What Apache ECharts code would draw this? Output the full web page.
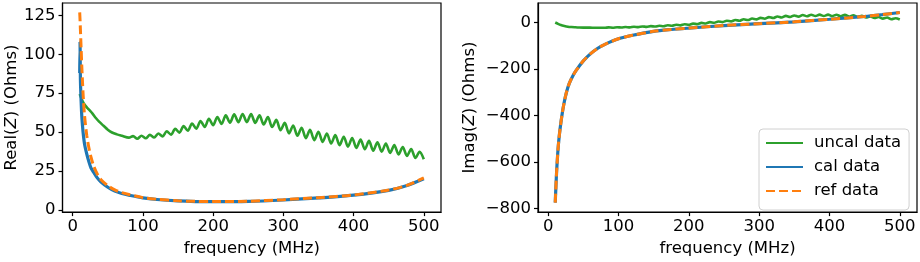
<!DOCTYPE html>
<html>
<head>
<meta charset="utf-8">
<script src="https://cdn.jsdelivr.net/npm/echarts@6/dist/echarts.min.js"></script>
<style>
  html, body { margin: 0; padding: 0; background: #fff; }
  #chart { width: 920px; height: 262px; }
</style>
</head>
<body>
<div id="chart"></div>
<script>
// frequency grid of the uncalibrated sweep (MHz)
const freqUncal = [10, 14, 18, 23, 28, 33, 38, 44, 50, 56, 63, 70,
  80, 86, 92, 98, 104, 110, 116, 122, 128, 134, 140, 146, 152, 158, 164, 170, 176, 182, 188, 194,
  200, 206, 212, 218, 224, 230, 236, 242, 248, 254, 260, 266, 272, 278, 284, 290, 296,
  302, 308, 314, 320, 326, 332, 338, 344, 350, 356, 362, 368, 374, 380, 386, 392, 398,
  404, 410, 416, 422, 428, 434, 440, 446, 452, 458, 464, 470, 476, 482, 488, 494, 500];

const realUncal = [74.5, 70, 67, 64.5, 62, 59, 56.5, 54, 51.5, 49.7, 48.5, 47.6,
  46.4, 47.4, 45.7, 47.6, 46.0, 48.2, 46.5, 49.1, 47.2, 50.5, 48.3, 52.1, 49.6, 53.8, 50.9, 55.5, 52.1, 57.1, 53.3, 58.5,
  54.4, 59.7, 55.2, 60.7, 56.0, 61.4, 56.3, 61.6, 56.4, 61.5, 55.9, 60.8, 54.9, 59.6, 53.2, 57.8, 51.2,
  55.9, 49.2, 54.2, 47.6, 52.8, 46.1, 51.4, 44.8, 50.2, 43.7, 49.1, 42.6, 48.0, 41.5, 47.0, 40.6, 46.1,
  39.8, 45.1, 38.9, 44.3, 38.0, 43.4, 37.4, 42.6, 36.6, 41.6, 35.6, 40.4, 34.6, 39.1, 33.3, 37.3, 32.5];

const imagUncal = [0, -6, -11, -15, -18, -19.5, -20.5, -21.5, -22, -22, -22.3, -22.3,
  -22.8, -20.9, -22.3, -20.2, -21.6, -19.3, -20.8, -18.3, -19.8, -17.0, -18.7, -15.6, -17.3, -13.9, -15.9, -12.0, -14.2, -9.9, -12.1, -7.4,
  -9.8, -4.6, -6.9, -1.5, -4.0, 1.5, -1.1, 4.6, 1.8, 7.7, 4.8, 10.8, 7.7, 13.9, 10.6, 17.0, 13.5,
  20.1, 16.4, 23.2, 19.3, 26.0, 21.6, 28.5, 23.7, 30.5, 25.4, 32.2, 26.8, 33.4, 28.0, 34.0, 28.0, 34.0,
  27.8, 33.5, 27.2, 32.7, 25.8, 30.9, 24.0, 28.8, 21.6, 26.4, 19.2, 24.0, 16.8, 21.5, 14.0, 18.5, 13.0];

// frequency grid of the calibrated / reference curves (MHz)
const freqCal = [10, 10.5, 11, 12, 13, 14, 15, 17, 20, 23, 26, 30, 35, 40, 50, 60, 70, 80,
  100, 120, 150, 175, 200, 250, 300, 350, 400, 450, 475, 500];

const realCal = [88, 108, 84, 70, 60, 54, 49, 42, 36, 31, 27, 24, 20.5, 18, 14.5, 12, 10.5, 9.4,
  7.6, 6.6, 5.7, 5.3, 5.2, 5.4, 6.3, 7.6, 9.4, 12.5, 15.5, 20];
const realRef = [127, 122, 116, 104, 92, 82, 73, 60, 48, 40, 34, 28, 23, 19.5, 15.5, 12.8, 11, 9.8,
  7.8, 6.8, 5.8, 5.4, 5.3, 5.5, 6.5, 7.8, 9.5, 12.7, 15.5, 20.5];

const imagCal = [-775, -740, -705, -640, -590, -545, -510, -455, -390, -340, -300, -262, -230, -205, -165, -135, -112, -95,
  -70, -55, -38, -30, -24, -13, -5, 3, 14, 26, 34, 43];
const imagRef = [-775, -740, -705, -640, -590, -545, -510, -455, -390, -340, -300, -262, -230, -205, -165, -135, -112, -95,
  -70, -55, -38, -30, -24, -13, -5, 3, 14, 26, 34, 43];

const xTicks = [0, 100, 200, 300, 400, 500];
const realTicks = [0, 25, 50, 75, 100, 125];
const imagTicks = [-800, -600, -400, -200, 0];

const FONT = 'DejaVu Sans';
const FS = 16.5;

function zip(xs, ys) {
  return xs.map((x, i) => [x, ys[i]]);
}

function xAxis(gridIndex) {
  return {
    type: 'value', gridIndex: gridIndex, min: -14.5, max: 524.5,
    name: 'frequency (MHz)', nameLocation: 'middle', nameGap: 25,
    nameTextStyle: { color: '#000', fontFamily: FONT, fontSize: FS },
    axisLine: { onZero: false, lineStyle: { color: '#000', width: 1.2 } },
    axisTick: { length: 4, customValues: xTicks, lineStyle: { color: '#000', width: 1.2 } },
    axisLabel: { customValues: xTicks, margin: 6, color: '#000', fontFamily: FONT, fontSize: FS },
    splitLine: { show: false }
  };
}

function yAxis(gridIndex, min, max, ticks, name, gap) {
  return {
    type: 'value', gridIndex: gridIndex, min: min, max: max,
    name: name, nameLocation: 'middle', nameGap: gap,
    nameTextStyle: {
      color: '#000', fontFamily: FONT, fontSize: FS,
      rich: { i: { fontStyle: 'italic', fontFamily: FONT, fontSize: FS, color: '#000' } }
    },
    axisLine: { onZero: false, lineStyle: { color: '#000', width: 1.2 } },
    axisTick: { length: 4, customValues: ticks, lineStyle: { color: '#000', width: 1.2 } },
    axisLabel: {
      customValues: ticks, margin: 7, color: '#000', fontFamily: FONT, fontSize: FS,
      formatter: v => String(v).replace('-', '\u2212')
    },
    splitLine: { show: false }
  };
}

function line(name, xi, data, color, width, dashed) {
  return {
    name: name, type: 'line', xAxisIndex: xi, yAxisIndex: xi,
    data: data, symbol: 'none', smooth: 0.3,
    lineStyle: { color: color, width: width, type: dashed ? [9, 4] : 'solid' },
    itemStyle: { color: color }
  };
}

const chart = echarts.init(document.getElementById('chart'));
chart.setOption({
  animation: false,
  backgroundColor: '#fff',
  grid: [
    { left: 62.5, right: 479, top: 3, bottom: 46, show: true, borderColor: '#000', borderWidth: 1.2 },
    { left: 538, right: 3, top: 3, bottom: 46, show: true, borderColor: '#000', borderWidth: 1.2 }
  ],
  xAxis: [xAxis(0), xAxis(1)],
  yAxis: [
    yAxis(0, -1.5, 133, realTicks, 'Real({i|Z}) (Ohms)', 42),
    yAxis(1, -816, 84, imagTicks, 'Imag({i|Z}) (Ohms)', 60)
  ],
  legend: {
    data: ['uncal data', 'cal data', 'ref data'],
    orient: 'vertical', left: 759, top: 129,
    padding: [5, 8, 10, 6],
    itemWidth: 37, itemHeight: 14, itemGap: 6,
    itemStyle: { opacity: 0 },
    backgroundColor: '#fff', borderColor: '#d0d0d0', borderWidth: 1, borderRadius: 4,
    textStyle: { color: '#000', fontFamily: FONT, fontSize: FS, lineHeight: 18, padding: [0, 0, 0, 6] }
  },
  series: [
    line('uncal data', 0, zip(freqUncal, realUncal), '#2ca02c', 2.6, false),
    line('cal data', 0, zip(freqCal, realCal), '#1f77b4', 3.2, false),
    line('ref data', 0, zip(freqCal, realRef), '#ff7f0e', 3, true),
    line('uncal data', 1, zip(freqUncal, imagUncal), '#2ca02c', 2.6, false),
    line('cal data', 1, zip(freqCal, imagCal), '#1f77b4', 3.2, false),
    line('ref data', 1, zip(freqCal, imagRef), '#ff7f0e', 3, true)
  ]
});
</script>
</body>
</html>
